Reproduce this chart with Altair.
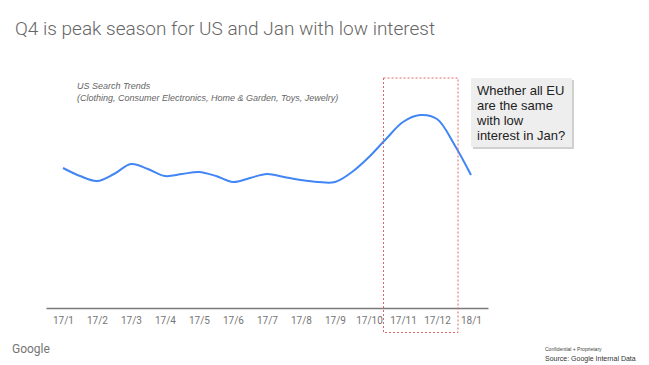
import altair as alt
import pandas as pd

# Month positions (0 = 17/1 ... 12 = 18/1), semi-monthly samples
month_pos = [0, 0.5, 1, 1.5, 2, 2.5, 3, 3.5, 4, 4.5, 5, 5.5, 6, 6.5, 7, 7.5, 8, 8.5, 9, 9.5, 10, 10.5, 11, 11.5, 12]
interest = [70, 66, 63.5, 67, 72, 69.5, 66, 67, 68, 66, 63, 65, 67, 65.5, 64, 63, 63, 68, 75.5, 84.5, 93, 96.5, 94.5, 82, 66.5]
tick_labels = ["17/1", "17/2", "17/3", "17/4", "17/5", "17/6", "17/7", "17/8", "17/9", "17/10", "17/11", "17/12", "18/1"]

title_text = "Q4 is peak season for US and Jan with low interest"
subtitle_lines = ["US Search Trends", "(Clothing, Consumer Electronics, Home & Garden, Toys, Jewelry)"]
note_lines = ["Whether all EU", "are the same", "with low", "interest in Jan?"]

df = pd.DataFrame({"m": month_pos, "v": interest})
one = pd.DataFrame({"k": [0]})

label_expr = "[" + ",".join("'%s'" % t for t in tick_labels) + "][datum.value]"

line = alt.Chart(df).mark_line(interpolate="catmull-rom", color="#4285F4", strokeWidth=2).encode(
    x=alt.X("m:Q", scale=alt.Scale(domain=[-0.5, 12.5], nice=False, zero=False),
            axis=alt.Axis(values=list(range(13)), labelExpr=label_expr, title=None, grid=False,
                          ticks=False, domainColor="#7a7a7a", domainWidth=1.5,
                          labelColor="#757575", labelFont="Roboto", labelFontSize=10,
                          labelPadding=7)),
    y=alt.Y("v:Q", scale=alt.Scale(domain=[0, 100], nice=False), axis=None),
)

def txt(text, x, y, size, color, font="Liberation Sans", style="normal", line_height=None, weight="normal"):
    kw = dict(align="left", baseline="alphabetic", fontSize=size, color=color, font=font,
              fontStyle=style, fontWeight=weight, text=text)
    if line_height is not None:
        kw["lineHeight"] = line_height
    return alt.Chart(one).mark_text(**kw).encode(x=alt.value(x), y=alt.value(y))

title = txt(title_text, -31, -73, 19, "#666666", font="Roboto", weight=300)
subtitle = txt(subtitle_lines, 31, -19, 9, "#666666", style="italic", line_height=11.7)

dash_box = alt.Chart(one).mark_rect(fill=None, stroke="#e06666", strokeDash=[2, 2], strokeWidth=1).encode(
    x=alt.value(337.5), x2=alt.value(412), y=alt.value(-30), y2=alt.value(224.5))

shadow = alt.Chart(one).mark_rect(fill="#b0b0b0", opacity=0.6).encode(
    x=alt.value(427), x2=alt.value(528), y=alt.value(-28), y2=alt.value(41))
note_box = alt.Chart(one).mark_rect(fill="#eeeeee").encode(
    x=alt.value(425), x2=alt.value(526), y=alt.value(-30), y2=alt.value(39))
note = txt(note_lines, 431, -13, 13, "#222222", line_height=15)

google = txt("Google", -34, 245, 12, "#757575", font="Roboto")
conf = txt("Confidential + Proprietary", 499, 243, 5, "#444444")
source = txt("Source: Google Internal Data", 499, 253, 7, "#333333")

chart = alt.layer(line, dash_box, title, subtitle, shadow, note_box, note, google, conf, source).properties(
    width=442, height=200,
    autosize=alt.AutoSizeParams(type="none"),
    padding={"left": 38, "top": 100, "right": 153, "bottom": 55},
).configure(background="white").configure_view(strokeWidth=0, stroke="transparent")

chart.save("out.html", embed_options={"renderer": "svg", "actions": False})
